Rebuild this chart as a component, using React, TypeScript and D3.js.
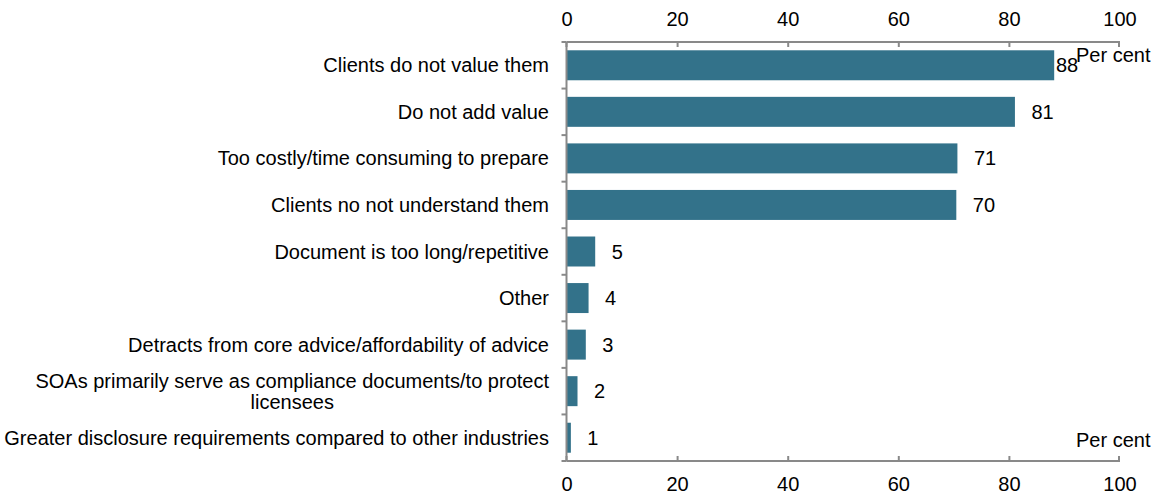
import React, { useEffect, useRef } from "react";
import * as d3 from "d3";

const categories = [
  "Clients do not value them",
  "Do not add value",
  "Too costly/time consuming to prepare",
  "Clients no not understand them",
  "Document is too long/repetitive",
  "Other",
  "Detracts from core advice/affordability of advice",
  "SOAs primarily serve as compliance documents/to protect\nlicensees",
  "Greater disclosure requirements compared to other industries",
];
const values = [88.1, 81.0, 70.6, 70.4, 5.1, 3.9, 3.4, 1.9, 0.7];
const valueLabels = ["88", "81", "71", "70", "5", "4", "3", "2", "1"];
const xTicks = [0, 20, 40, 60, 80, 100];
const unitLabel = "Per cent";

const W = 1154;
const H = 497;
const FONT = "'Liberation Sans', Arial, sans-serif";
const AXIS = "#898989";
const BAR = "#33728a";

export default function App() {
  const ref = useRef<SVGSVGElement | null>(null);

  useEffect(() => {
    const svg = d3.select(ref.current);
    svg.selectAll("*").remove();

    const x = d3.scaleLinear().domain([0, 100]).range([567, 1120]);
    const y = d3
      .scaleBand<string>()
      .domain(categories)
      .range([42, 461])
      .paddingInner(0.356)
      .paddingOuter(0.178);
    const step = y.step();
    const top = 42;
    const bottom = 461;
    const axisX = x(0) - 0.5;

    const g = svg.append("g").style("font-family", FONT).style("font-size", "20px");

    // bars
    g.selectAll("rect.bar")
      .data(values)
      .join("rect")
      .attr("class", "bar")
      .attr("x", x(0))
      .attr("y", (_, i) => y(categories[i])!)
      .attr("width", (d) => x(d) - x(0))
      .attr("height", y.bandwidth())
      .attr("fill", BAR);

    // value labels
    g.selectAll("text.val")
      .data(values)
      .join("text")
      .attr("class", "val")
      .attr("x", (d) => Math.min(x(d) + 16.5, x(100) - 64))
      .attr("y", (_, i) => y(categories[i])! + y.bandwidth() / 2)
      .attr("dy", "0.35em")
      .attr("fill", "#000")
      .text((_, i) => valueLabels[i]);

    // axes lines
    const axisG = g.append("g").attr("stroke", AXIS).attr("stroke-width", 2).attr("fill", "none");
    axisG.append("line").attr("x1", axisX).attr("x2", x(100)).attr("y1", top).attr("y2", top);
    axisG.append("line").attr("x1", axisX).attr("x2", x(100)).attr("y1", bottom).attr("y2", bottom);
    axisG.append("line").attr("x1", axisX).attr("x2", axisX).attr("y1", top).attr("y2", bottom);

    xTicks.forEach((t) => {
      const tx = t === 0 ? axisX : x(t) - (t === 100 ? 1 : 0);
      axisG.append("line").attr("x1", tx).attr("x2", tx).attr("y1", top).attr("y2", top + 5);
      axisG.append("line").attr("x1", tx).attr("x2", tx).attr("y1", bottom).attr("y2", bottom - 5);
    });
    for (let i = 0; i <= categories.length; i++) {
      const ty = top + i * step;
      axisG.append("line").attr("x1", axisX - 5).attr("x2", axisX).attr("y1", ty).attr("y2", ty);
    }

    // tick labels
    xTicks.forEach((t) => {
      g.append("text").attr("x", x(t)).attr("y", 26).attr("text-anchor", "middle").text(String(t));
      g.append("text").attr("x", x(t)).attr("y", 491).attr("text-anchor", "middle").text(String(t));
    });

    // unit labels
    g.append("text").attr("x", 1076).attr("y", 62).text(unitLabel);
    g.append("text").attr("x", 1076).attr("y", 447).text(unitLabel);

    // category labels
    const labelRight = 549;
    categories.forEach((c) => {
      const lines = c.split("\n");
      const cy = y(c)! + y.bandwidth() / 2;
      const lh = 21;
      if (lines.length === 1) {
        g.append("text")
          .attr("x", labelRight)
          .attr("y", cy)
          .attr("dy", "0.35em")
          .attr("text-anchor", "end")
          .text(c);
      } else {
        const first = g
          .append("text")
          .attr("x", labelRight)
          .attr("y", cy - ((lines.length - 1) * lh) / 2)
          .attr("dy", "0.35em")
          .attr("text-anchor", "end")
          .text(lines[0]);
        const w = (first.node() as SVGTextElement).getComputedTextLength();
        const mid = labelRight - w / 2;
        lines.slice(1).forEach((ln, k) => {
          g.append("text")
            .attr("x", mid)
            .attr("y", cy - ((lines.length - 1) * lh) / 2 + (k + 1) * lh)
            .attr("dy", "0.35em")
            .attr("text-anchor", "middle")
            .text(ln);
        });
      }
    });
  }, []);

  return (
    <div style={{ position: "absolute", left: 0, top: 0 }}>
      <svg ref={ref} width={W} height={H} style={{ display: "block", background: "#fff" }} />
    </div>
  );
}
